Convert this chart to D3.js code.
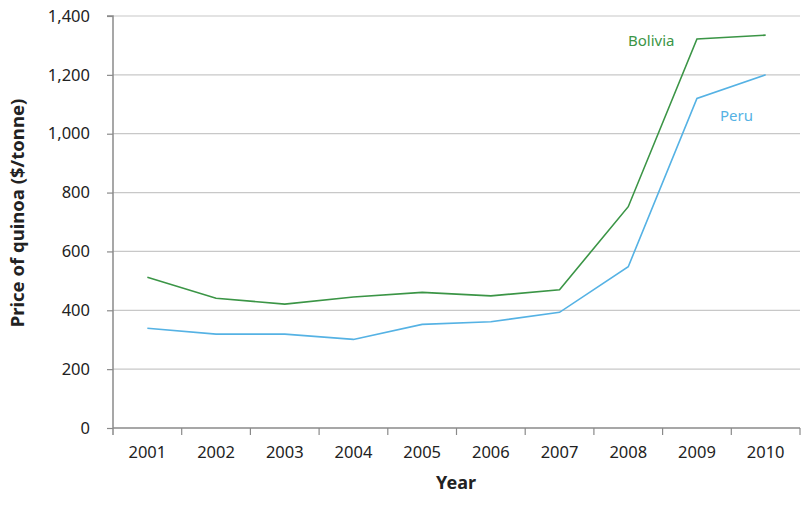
<!DOCTYPE html>
<html>
<head>
<meta charset="utf-8">
<script src="https://cdn.jsdelivr.net/npm/d3@7"></script>
<style>
  body { margin: 0; background: #fff; }
  text { font-family: "Noto Sans", "Open Sans", sans-serif; fill: #222; }
</style>
</head>
<body>
<svg id="chart" width="810" height="505"></svg>
<script>
// Data
const years = ['2001', '2002', '2003', '2004', '2005', '2006', '2007', '2008', '2009', '2010'];
const bolivia = [512, 441, 421, 445, 461, 449, 470, 752, 1322, 1335];
const peru = [339, 319, 319, 301, 352, 361, 393, 548, 1120, 1200];
const yTicks = [0, 200, 400, 600, 800, 1000, 1200, 1400];

const svg = d3.select('#chart');
const plotLeft = 113, plotRight = 800, plotTop = 16, plotBottom = 428;

// Scales
const xScale = d3.scaleBand().domain(years).range([plotLeft, plotRight]);
const yScale = d3.scaleLinear().domain([0, 1400]).range([plotBottom, plotTop]);

// Gridlines
svg.append('g')
  .selectAll('line')
  .data(yTicks.filter(d => d > 0))
  .enter()
  .append('line')
  .attr('x1', plotLeft)
  .attr('x2', plotRight)
  .attr('y1', d => yScale(d))
  .attr('y2', d => yScale(d))
  .attr('stroke', '#c8c8c8')
  .attr('stroke-width', 1.2);

// Y axis
const yAxis = svg.append('g')
  .attr('transform', `translate(${plotLeft},0)`)
  .call(d3.axisLeft(yScale).tickValues(yTicks).tickSize(6).tickPadding(17).tickFormat(d3.format(',')));
yAxis.select('.domain').attr('stroke', '#8a8a8a').attr('stroke-width', 1.5)
  .attr('d', `M-6,${plotTop}H0V${plotBottom + 7}`);
yAxis.selectAll('.tick line').attr('stroke', '#8a8a8a').attr('stroke-width', 1.2);
yAxis.selectAll('.tick text').style('font-size', '16.5px').attr('fill', '#222');

// X axis, ticks at band edges
const xAxis = svg.append('g')
  .attr('transform', `translate(0,${plotBottom})`)
  .call(d3.axisBottom(xScale).tickSize(0).tickPadding(18));
xAxis.select('.domain').attr('stroke', '#8a8a8a').attr('stroke-width', 1.5)
  .attr('d', `M${plotLeft},0H${plotRight}`);
xAxis.selectAll('.tick text').style('font-size', '16.5px').attr('fill', '#222');
xAxis.selectAll('.edge')
  .data(years)
  .enter()
  .append('line')
  .attr('class', 'edge')
  .attr('x1', d => xScale(d) + xScale.step())
  .attr('x2', d => xScale(d) + xScale.step())
  .attr('y1', 0)
  .attr('y2', 7)
  .attr('stroke', '#8a8a8a')
  .attr('stroke-width', 1.2);

// Lines
const line = d3.line()
  .x((d, i) => xScale(years[i]) + xScale.bandwidth() / 2)
  .y(d => yScale(d));

svg.append('path')
  .datum(bolivia)
  .attr('d', line)
  .attr('fill', 'none')
  .attr('stroke', '#3b9546')
  .attr('stroke-width', 1.6);

svg.append('path')
  .datum(peru)
  .attr('d', line)
  .attr('fill', 'none')
  .attr('stroke', '#55b2e4')
  .attr('stroke-width', 1.6);

// Series labels
svg.append('text')
  .text('Bolivia')
  .attr('x', 628)
  .attr('y', 46)
  .style('font-size', '15px')
  .style('fill', '#3b9546');

svg.append('text')
  .text('Peru')
  .attr('x', 720)
  .attr('y', 121)
  .style('font-size', '15px')
  .style('fill', '#55b2e4');

// Axis titles
svg.append('text')
  .text('Year')
  .attr('text-anchor', 'middle')
  .attr('x', 456)
  .attr('y', 489)
  .style('font-size', '18px')
  .style('font-weight', 'bold');

svg.append('text')
  .text('Price of quinoa ($/tonne)')
  .attr('text-anchor', 'middle')
  .attr('transform', 'translate(24,213) rotate(-90)')
  .style('font-size', '18.5px')
  .style('font-weight', 'bold');
</script>
</body>
</html>
